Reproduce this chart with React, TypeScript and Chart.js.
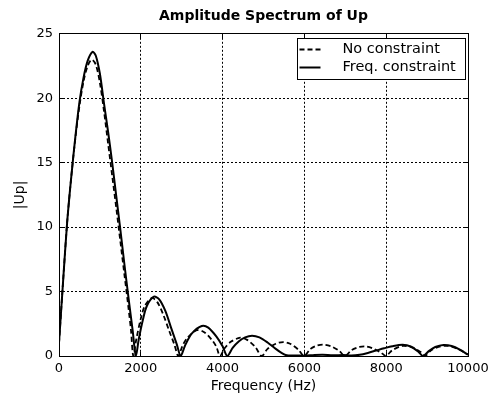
import React, { useEffect, useRef } from 'react';
import { Chart, registerables } from 'chart.js';

Chart.register(...registerables);

const TITLE = 'Amplitude Spectrum of Up';
const X_LABEL = 'Frequency (Hz)';
const Y_LABEL = '|Up|';
const SERIES_NAMES = ['No constraint', 'Freq. constraint'];
const X_TICKS = [0, 2000, 4000, 6000, 8000, 10000];
const Y_TICKS = [0, 5, 10, 15, 20, 25];

// "No constraint" (dashed)
const noConstraintFreq = [
  0, 100, 200, 300, 400, 500, 600, 700, 800, 900, 1000, 1100, 1200, 1300, 1400, 1500, 1600, 1700, 1760, 1817,
  1890, 2000, 2100, 2270, 2400, 2550, 2700, 2820, 2917,
  3020, 3150, 3370, 3550, 3750, 3850, 3936,
  4050, 4200, 4430, 4600, 4800, 4956,
  5100, 5300, 5480, 5650, 5850, 5990,
  6150, 6300, 6460, 6650, 6850, 6993,
  7150, 7350, 7500, 7700, 7880, 7990,
  8150, 8400, 8650, 8850, 8950,
  9100, 9300, 9500, 9750, 10000,
];
const noConstraintAmp = [
  1.0, 5.8, 10.4, 13.9, 16.9, 19.4, 21.3, 22.5, 23.0, 22.6, 21.2, 19.0, 16.5, 14.0, 11.5, 8.9, 6.3, 3.7, 2.0, 0,
  1.3, 2.9, 3.9, 4.5, 4.2, 3.2, 1.9, 0.9, 0,
  0.8, 1.45, 2.0, 1.85, 1.2, 0.7, 0,
  0.6, 1.1, 1.42, 1.25, 0.7, 0,
  0.55, 0.95, 1.08, 0.95, 0.5, 0,
  0.55, 0.8, 0.88, 0.75, 0.4, 0,
  0.45, 0.7, 0.74, 0.55, 0.25, 0,
  0.45, 0.78, 0.65, 0.3, 0,
  0.45, 0.72, 0.78, 0.55, 0.12,
];

// "Freq. constraint" (solid)
const freqConstraintFreq = [
  0, 100, 200, 300, 400, 500, 600, 700, 820, 900, 1000, 1100, 1200, 1300, 1400, 1500, 1600, 1700, 1800, 1880,
  1950, 2050, 2150, 2320, 2450, 2600, 2750, 2880, 2975,
  3080, 3250, 3490, 3650, 3850, 4000, 4115,
  4250, 4400, 4550, 4720, 4900, 5100, 5300, 5450, 5570,
  5800, 6000, 6250, 6450, 6700, 6950, 7150, 7350, 7550, 7750, 7950, 8150, 8400, 8600, 8780, 8900,
  9050, 9200, 9400, 9600, 9800, 10000,
];
const freqConstraintAmp = [
  1.0, 5.8, 10.4, 13.9, 17.0, 19.7, 21.6, 22.9, 23.6, 23.3, 21.9, 19.6, 17.4, 15.0, 12.4, 9.8, 7.1, 4.5, 2.0, 0,
  1.3, 2.8, 3.9, 4.6, 4.4, 3.5, 2.1, 0.9, 0,
  0.8, 1.75, 2.33, 2.2, 1.5, 0.75, 0,
  0.65, 1.15, 1.45, 1.58, 1.45, 1.05, 0.55, 0.22, 0.05,
  0.04, 0.02, 0.08, 0.1, 0.05, 0.08, 0.04, 0.1, 0.24, 0.42, 0.6, 0.76, 0.87, 0.74, 0.35, 0,
  0.4, 0.7, 0.86, 0.78, 0.5, 0.1,
];

const FONT = "'DejaVu Sans', sans-serif";

const align = (p: number) => Math.round(p - 0.5) + 0.5;

const framePlugin = {
  id: 'matlabFrame',
  afterDatasetsDraw(chart: any) {
    const { ctx, chartArea: a, scales } = chart;
    const L = align(a.left), R = align(a.right), T = align(a.top), B = align(a.bottom);
    ctx.save();
    ctx.setLineDash([]);
    ctx.strokeStyle = '#000';
    ctx.lineWidth = 1;
    ctx.strokeRect(L, T, R - L, B - T);
    const len = 5;
    ctx.beginPath();
    X_TICKS.forEach((v) => {
      const px = align(scales.x.getPixelForValue(v));
      ctx.moveTo(px, B); ctx.lineTo(px, B - len);
      ctx.moveTo(px, T); ctx.lineTo(px, T + len);
    });
    Y_TICKS.forEach((v) => {
      const py = align(scales.y.getPixelForValue(v));
      ctx.moveTo(L, py); ctx.lineTo(L + len, py);
      ctx.moveTo(R, py); ctx.lineTo(R - len, py);
    });
    ctx.stroke();
    ctx.restore();
  },
};

const legendPlugin = {
  id: 'boxLegend',
  afterDraw(chart: any) {
    const { ctx, chartArea: a } = chart;
    const ds = chart.data.datasets;
    ctx.save();
    ctx.font = `14.5px ${FONT}`;
    const textW = Math.max(...ds.map((d: any) => ctx.measureText(d.label).width));
    const inset = 2, sampleW = 21, gap = 22, padR = 10;
    const boxW = inset + sampleW + gap + textW + padR;
    const boxH = 41;
    const right = align(a.right - 3);
    const left = align(right - boxW);
    const top = align(a.top + 5);
    ctx.fillStyle = '#fff';
    ctx.fillRect(left, top, right - left, boxH);
    ctx.strokeStyle = '#000';
    ctx.lineWidth = 1;
    ctx.setLineDash([]);
    ctx.strokeRect(left, top, right - left, boxH);
    ds.forEach((d: any, i: number) => {
      const cy = top + 11 + i * 18;
      ctx.save();
      ctx.strokeStyle = d.borderColor;
      ctx.lineWidth = d.borderWidth;
      ctx.setLineDash(d.borderDash || []);
      ctx.beginPath();
      ctx.moveTo(left + inset, cy);
      ctx.lineTo(left + inset + sampleW, cy);
      ctx.stroke();
      ctx.restore();
      ctx.fillStyle = '#000';
      ctx.textAlign = 'left';
      ctx.textBaseline = 'middle';
      ctx.fillText(d.label, left + inset + sampleW + gap, cy);
    });
    ctx.restore();
  },
};

export default function App() {
  const ref = useRef<HTMLCanvasElement>(null);
  useEffect(() => {
    Chart.defaults.font.family = FONT;
    Chart.defaults.color = '#000';
    const toPts = (xs: number[], ys: number[]) => xs.map((x, i) => ({ x, y: ys[i] }));
    const chart = new Chart(ref.current as HTMLCanvasElement, {
      type: 'line',
      data: {
        datasets: [
          {
            label: SERIES_NAMES[0],
            data: toPts(noConstraintFreq, noConstraintAmp),
            borderColor: '#000',
            borderWidth: 1.8,
            borderDash: [5, 3],
            pointRadius: 0,
            tension: 0.3,
            fill: false,
          },
          {
            label: SERIES_NAMES[1],
            data: toPts(freqConstraintFreq, freqConstraintAmp),
            borderColor: '#000',
            borderWidth: 2,
            pointRadius: 0,
            tension: 0.3,
            fill: false,
          },
        ],
      },
      options: {
        animation: false,
        responsive: false,
        maintainAspectRatio: false,
        layout: { padding: { left: 0, right: 29, top: 0, bottom: 0 } },
        plugins: {
          legend: { display: false },
          tooltip: { enabled: false },
          title: {
            display: true,
            fullSize: false,
            text: TITLE,
            color: '#000',
            font: { size: 14, weight: 'bold', family: FONT },
            padding: { top: 8, bottom: 9 },
          },
        },
        scales: {
          x: {
            type: 'linear',
            min: X_TICKS[0],
            max: X_TICKS[X_TICKS.length - 1],
            afterBuildTicks: (s: any) => { s.ticks = X_TICKS.map((v) => ({ value: v })); },
            afterFit: (s: any) => { s.height = 40; },
            ticks: { color: '#000', font: { size: 13 }, padding: 5, maxRotation: 0, autoSkip: false, callback: (v: any) => String(v) },
            grid: { color: '#000', lineWidth: 1, drawTicks: false },
            border: { display: false, dash: [2, 2] },
            title: { display: true, text: X_LABEL, color: '#000', font: { size: 14 }, padding: { top: 0, bottom: 1 } },
          },
          y: {
            type: 'linear',
            min: Y_TICKS[0],
            max: Y_TICKS[Y_TICKS.length - 1],
            afterBuildTicks: (s: any) => { s.ticks = Y_TICKS.map((v) => ({ value: v })); },
            afterFit: (s: any) => { s.width = 59; },
            ticks: { color: '#000', font: { size: 13 }, padding: 6, callback: (v: any) => String(v) },
            grid: { color: '#000', lineWidth: 1, drawTicks: false },
            border: { display: false, dash: [2, 2] },
            title: { display: true, text: Y_LABEL, color: '#000', font: { size: 14 }, padding: { top: 12, bottom: 0 } },
          },
        },
      },
      plugins: [framePlugin, legendPlugin],
    });
    return () => chart.destroy();
  }, []);
  return (
    <div style={{ position: 'fixed', left: 0, top: 0, width: 497, height: 396, background: '#fff' }}>
      <canvas ref={ref} width={497} height={396} style={{ display: 'block' }} />
    </div>
  );
}
